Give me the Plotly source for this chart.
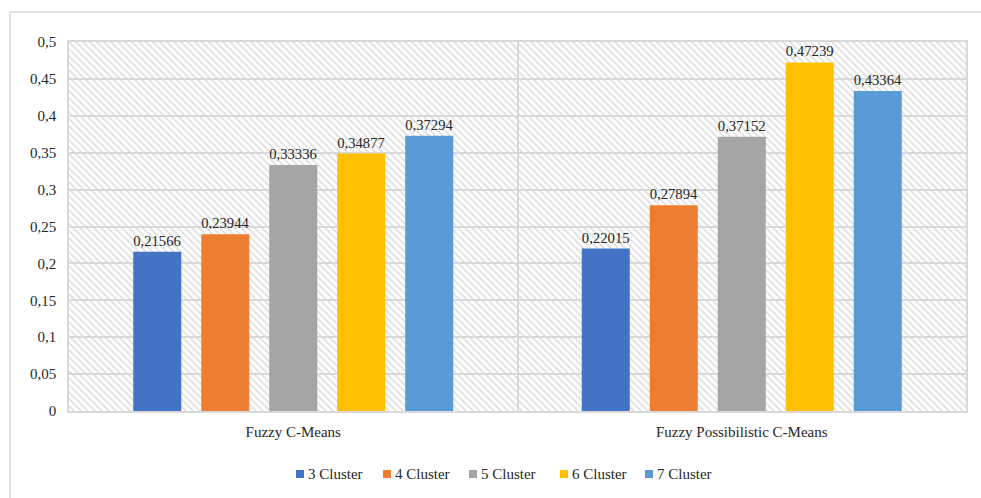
import base64
import plotly.graph_objects as go

categories = ["Fuzzy C-Means", "Fuzzy Possibilistic C-Means"]
series_names = ["3 Cluster", "4 Cluster", "5 Cluster", "6 Cluster", "7 Cluster"]
cluster3 = [0.21566, 0.22015]
cluster4 = [0.23944, 0.27894]
cluster5 = [0.33336, 0.37152]
cluster6 = [0.34877, 0.47239]
cluster7 = [0.37294, 0.43364]
colors = ["#4472C4", "#ED7D31", "#A5A5A5", "#FFC000", "#5B9BD5"]

values = [cluster3, cluster4, cluster5, cluster6, cluster7]

FONT = "'Times New Roman', 'Liberation Serif', Tinos, serif"
TXT = "#262626"
GRID = "#d9d9d9"

# layout geometry (pixels)
W, H = 981, 498
ML, MR, MT, MB = 69, 15, 42, 87
PW, PH = W - ML - MR, H - MT - MB
LEGEND_SQ_PX = [296, 383, 469, 560, 645]
LEGEND_Y_PX = 474


def px_x(px):
    return (px - ML) / PW


def px_y(py):
    return (H - MB - py) / PH


fig = go.Figure()
for name, vals, col in zip(series_names, values, colors):
    fig.add_trace(go.Bar(
        name=name, x=categories, y=vals, marker_color=col, marker_line_width=0,
        text=[f"{v:.5f}".replace(".", ",") for v in vals],
        textposition="outside", cliponaxis=False, showlegend=False,
        textfont=dict(family=FONT, size=15, color=TXT),
    ))

# hatch background image
svg = (
    f'<svg xmlns="http://www.w3.org/2000/svg" width="{PW}" height="{PH}">'
    '<defs><pattern id="p" width="7" height="7" patternUnits="userSpaceOnUse">'
    '<rect width="7" height="7" fill="white"/>'
    '<path d="M-1,-1 L8,8 M-1,6 L1,8 M6,-1 L8,1" stroke="#e1e1e1" stroke-width="1.8"/>'
    f'</pattern></defs><rect width="{PW}" height="{PH}" fill="url(#p)"/></svg>'
)
uri = "data:image/svg+xml;base64," + base64.b64encode(svg.encode()).decode()

shapes = [dict(type="rect", xref="paper", yref="paper", x0=px_x(10), x1=px_x(995),
               y0=px_y(510), y1=px_y(12), line=dict(color=GRID, width=1.5),
               fillcolor="rgba(0,0,0,0)")]
annotations = []
for name, col, sx in zip(series_names, colors, LEGEND_SQ_PX):
    shapes.append(dict(type="rect", xref="paper", yref="paper",
                       x0=px_x(sx), x1=px_x(sx + 8),
                       y0=px_y(LEGEND_Y_PX + 4), y1=px_y(LEGEND_Y_PX - 4),
                       line=dict(width=0), fillcolor=col))
    annotations.append(dict(text=name, xref="paper", yref="paper",
                            x=px_x(sx + 10), y=px_y(LEGEND_Y_PX),
                            xanchor="left", yanchor="middle", showarrow=False,
                            font=dict(family=FONT, size=15, color=TXT)))

fig.update_layout(
    width=W, height=H,
    margin=dict(l=ML, r=MR, t=MT, b=MB),
    paper_bgcolor="white", plot_bgcolor="white",
    separators=", ",
    barmode="group", bargap=0.242, bargroupgap=0.294,
    font=dict(family=FONT, size=15, color=TXT),
    showlegend=False,
    images=[dict(source=uri, xref="paper", yref="paper", x=0, y=1, sizex=1, sizey=1,
                 xanchor="left", yanchor="top", sizing="stretch", layer="below")],
    shapes=shapes,
    annotations=annotations,
)
fig.update_yaxes(range=[0, 0.5], dtick=0.05, showgrid=True, gridcolor=GRID, gridwidth=1.5,
                 showline=True, linecolor=GRID, linewidth=1.5, mirror=True, zeroline=False,
                 ticks="", ticklabelstandoff=8,
                 tickfont=dict(family=FONT, size=15, color=TXT))
fig.update_xaxes(showgrid=True, gridcolor=GRID, gridwidth=1.5, tickson="boundaries",
                 showline=True, linecolor=GRID, linewidth=1.5, mirror=True, ticks="",
                 ticklabelstandoff=6,
                 tickfont=dict(family=FONT, size=15, color=TXT))

fig.write_html("out.html")
